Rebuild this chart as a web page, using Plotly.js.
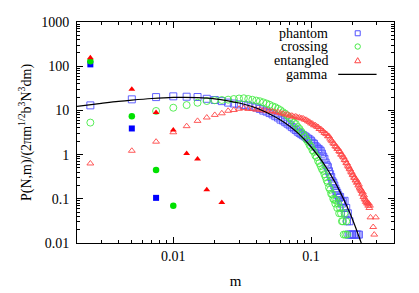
<!DOCTYPE html>
<html><head><meta charset="utf-8">
<script src="https://cdn.plot.ly/plotly-3.0.1.min.js"></script>
<style>html,body{margin:0;padding:0;background:#fff}#chart{width:419px;height:293px}</style>
</head><body><div id="chart"></div>
<script>
// bin centres m (shared by the three open-symbol series)
const mGrid = [
0.0025,0.005,0.0075,0.01,0.0125,0.015,0.0175,0.02,0.0225,0.025,
0.0275,0.03,0.0325,0.035,0.0375,0.04,0.0425,0.045,0.0475,0.05,
0.0525,0.055,0.0575,0.06,0.0625,0.065,0.0675,0.07,0.0725,0.075,
0.0775,0.08,0.0825,0.085,0.0875,0.09,0.0925,0.095,0.0975,0.1,
0.1025,0.105,0.1075,0.11,0.1125,0.115,0.1175,0.12,0.1225,0.125,
0.1275,0.13,0.1325,0.135,0.1375,0.14,0.1425,0.145,0.1475,0.15,
0.1525,0.155,0.1575,0.16,0.1625,0.165,0.1675,0.17,0.1725,0.175,
0.1775,0.18,0.1825,0.185,0.1875,0.19,0.1925,0.195,0.1975,0.2,
0.2025,0.205,0.2075,0.21,0.2125,0.215,0.2175,0.22,0.2225,0.225,
0.2275,0.23,0.2325,0.235,0.2375,0.24,0.2425,0.245,0.2475,0.25,
0.2525,0.255,0.2575,0.26,0.2625,0.265,0.2675,0.27,0.2725,0.275,
0.2775,0.28,0.2825,0.285,0.2875,0.29,0.2925,0.295];

const phantom = [
13,17.8,20,20.8,20.4,20.1,18.3,17.2,16.2,15.0,
14.3,13.7,13.3,12.9,12.1,11.6,10.8,9.9,9.4,8.7,
8.1,7.4,6.9,6.2,5.9,5.4,5.0,4.6,4.2,3.9,
3.6,3.3,3.1,2.9,2.75,2.6,2.45,2.3,2.2,2.05,
1.85,1.75,1.55,1.45,1.35,1.3,1.2,1.05,0.9,0.8,
0.66,0.57,0.52,0.42,0.36,0.31,0.25,0.23,0.2,0.17,
0.15,0.135,0.12,0.105,0.11,0.09,0.078,0.086,0.062,0.09,
0.047,0.062,0.031,0.047,0.0155,0.031,0.0155,null,0.0155,0.0155,
null,0.0155,null,null,0.0155,null,0.0155,null,0.0155,null,
null,null,null,null,null,null,null,null,null,null,
null,null,null,null,null,null,null,null,null,null,
null,null,null,null,null,null,null,null];

const crossing = [
5.3,null,9.7,11.5,13.2,14.9,16.3,17.0,17.2,17.5,
18.1,18.6,18.8,18.1,17.4,16.7,16.1,15.2,14.3,13.4,
12.4,11.8,10.9,10.1,9.1,8.4,7.6,6.7,6.1,5.3,
4.9,4.2,3.8,3.3,2.9,2.6,2.2,1.95,1.65,1.5,
1.25,1.15,0.95,0.88,0.72,0.64,0.55,0.47,0.43,0.36,
0.31,0.26,0.23,0.18,0.16,0.13,0.125,0.1,0.094,0.078,
0.094,0.062,0.078,0.047,0.062,0.047,0.031,0.031,0.0155,0.047,
0.0155,0.031,0.0155,null,null,null,null,null,null,null,
null,null,null,null,null,null,null,null,null,null,
null,null,null,null,null,null,null,null,null,null,
null,null,null,null,null,null,null,null,null,null,
null,null,null,null,null,null,null,null];

const entangled = [
0.63,1.22,1.96,3.2,4.4,5.8,6.9,7.9,8.6,9.8,
10.2,10.9,11.3,10.8,10.9,10.4,10.5,10.0,9.9,9.6,
9.6,9.1,9.1,8.6,8.5,8.1,8.1,7.6,7.6,7.2,
7.3,6.9,6.9,6.6,6.6,6.2,6.1,5.7,5.5,5.1,
5.0,4.6,4.6,4.3,4.2,3.8,3.8,3.5,3.4,3.1,
3.0,2.9,2.6,2.6,2.3,2.1,2.0,1.8,1.75,1.55,
1.5,1.35,1.35,1.2,1.15,1.0,1.0,0.9,0.86,0.76,
0.74,0.65,0.63,0.56,0.53,0.48,0.46,0.41,0.39,0.35,
0.34,0.3,0.3,0.26,0.27,0.23,0.24,0.2,0.21,0.18,
0.17,0.16,0.15,0.13,0.14,0.11,0.12,0.1,0.095,0.085,
0.09,0.078,0.08,0.07,0.078,0.062,0.07,0.038,null,null,
null,null,0.023,null,0.0155,null,null,0.038];

// filled symbols (no legend entry)
const phantomFilledM = [0.0025,0.005,0.0075];
const phantomFilled  = [110,3.9,0.105];
const crossingFilledM = [0.0025,0.005,0.0075,0.01];
const crossingFilled  = [130,7.4,0.45,0.07];
const entangledFilledM = [0.0025,0.005,0.0075,0.01,0.0125,0.015,0.0175,0.0225];
const entangledFilled  = [155,30,9.0,3.6,1.06,0.8,0.16,0.082];

// gamma curve
const gammaM = [0.002,0.003,0.004,0.005,0.007,0.01,0.012,0.015,0.02,0.025,0.03,0.04,0.05,0.06,0.07,0.08,0.09,0.1,0.11,0.12,0.13,0.14,0.15,0.16,0.17,0.18,0.19,0.2,0.21,0.22,0.23,0.24];
const gammaP = [12.3,14.4,16.0,17.1,18.6,19.7,19.8,19.5,18.3,16.5,14.7,11.3,8.3,6.1,4.4,3.1,2.15,1.5,1.02,0.71,0.49,0.335,0.23,0.157,0.107,0.073,0.05,0.034,0.023,0.0155,0.0105,0.007];

const legendLabels = ['phantom','crossing','entangled','gamma'];
const yTitle = 'P(N,m)/(2πm<sup>1/2</sup>b<sup>3</sup>N<sup>3</sup>dm)';

const BLUE = 'rgb(80,80,255)', GREEN = 'rgb(70,235,70)', RED = 'rgb(255,70,70)';
const FONT = 'Liberation Serif, Times New Roman, serif';

function openTrace(y, color, symbol, size){
  return {x: mGrid, y: y, type:'scatter', mode:'markers', hoverinfo:'skip',
    marker:{symbol: symbol, size: size, color: color, line:{color: color, width:0.9}}};
}
function filledTrace(x, y, color, symbol, size){
  return {x: x, y: y, type:'scatter', mode:'markers', hoverinfo:'skip',
    marker:{symbol: symbol, size: size, color: color, line:{width:0}}};
}
const traces = [
  openTrace(phantom, BLUE, 'square-open', 7),
  openTrace(crossing, GREEN, 'circle-open', 7),
  openTrace(entangled, RED, 'triangle-up-open', 6),
  {x: gammaM, y: gammaP, type:'scatter', mode:'lines', hoverinfo:'skip', line:{color:'#000', width:1.2, shape:'spline'}},
  filledTrace(phantomFilledM, phantomFilled, 'rgb(0,0,255)', 'square', 6),
  filledTrace(crossingFilledM, crossingFilled, 'rgb(0,225,0)', 'circle', 6.5),
  filledTrace(entangledFilledM, entangledFilled, 'rgb(255,0,0)', 'triangle-up', 6)
];

const legY = [0.949, 0.889, 0.826, 0.763];
const legTextX = 0.798, legSymX = 0.8855;
const annotations = legendLabels.map((t,i)=>({text:t, xref:'paper', yref:'paper', x:legTextX, y:legY[i],
  xanchor:'right', yanchor:'middle', showarrow:false, font:{family:FONT, size:14, color:'#000'}}));
const pix = {xref:'paper', yref:'paper', xsizemode:'pixel', ysizemode:'pixel', xanchor:legSymX};
const shapes = [
  Object.assign({type:'rect', yanchor:legY[0], x0:-2.5, x1:2.5, y0:-2.5, y1:2.5, line:{color:BLUE, width:1}}, pix),
  Object.assign({type:'circle', yanchor:legY[1], x0:-2.7, x1:2.7, y0:-2.7, y1:2.7, line:{color:GREEN, width:1}}, pix),
  Object.assign({type:'path', yanchor:legY[2], path:'M -3,-2.3 L 3,-2.3 L 0,2.8 Z', line:{color:RED, width:1}}, pix),
  {type:'line', xref:'paper', yref:'paper', x0:0.824, x1:0.945, y0:legY[3], y1:legY[3], line:{color:'#000', width:1.2}}
];

const axisCommon = {type:'log', dtick:1, ticks:'inside', ticklen:6, tickwidth:1, tickcolor:'#000',
  showline:true, linecolor:'#000', linewidth:1, mirror:'allticks', showgrid:false, zeroline:false,
  exponentformat:'none', tickfont:{family:FONT, size:14, color:'#000'},
  minor:{ticks:'inside', ticklen:3, tickcolor:'#000', tickwidth:1, showgrid:false}};

const layout = {
  width:419, height:293, margin:{l:77, r:25, t:22, b:50},
  paper_bgcolor:'#fff', plot_bgcolor:'#fff', showlegend:false,
  font:{family:FONT, size:14, color:'#000'},
  xaxis: Object.assign({}, axisCommon, {range:[Math.log10(0.002), Math.log10(0.4)],
    title:{text:'m', font:{family:FONT, size:15, color:'#000'}, standoff:12}}),
  yaxis: Object.assign({}, axisCommon, {range:[-2, 3], ticklabelstandoff:4,
    title:{text:yTitle, font:{family:FONT, size:14, color:'#000'}, standoff:6}}),
  annotations: annotations, shapes: shapes
};
Plotly.newPlot('chart', traces, layout, {staticPlot:true, displayModeBar:false});
</script></body></html>
